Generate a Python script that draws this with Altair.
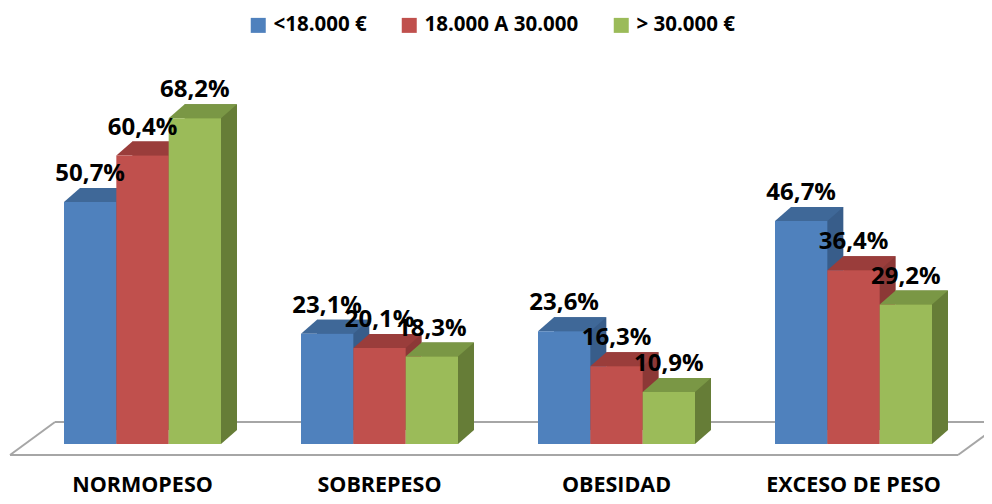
import altair as alt
import pandas as pd

# ---- data ----
categories = ["NORMOPESO", "SOBREPESO", "OBESIDAD", "EXCESO DE PESO"]
series = ["<18.000 €", "18.000 A 30.000", "> 30.000 €"]
vals_low = [50.7, 23.1, 23.6, 46.7]
vals_mid = [60.4, 20.1, 16.3, 36.4]
vals_high = [68.2, 18.3, 10.9, 29.2]

front_colors = ["#4F81BD", "#C0504D", "#9BBB59"]
top_colors = ["#3F6898", "#9A3D3B", "#7A9745"]
side_colors = ["#385D8A", "#8C3836", "#667D37"]

rows = []
for s_i, (s, vals) in enumerate(zip(series, [vals_low, vals_mid, vals_high])):
    for c, v in zip(categories, vals):
        rows.append({
            "cat": c, "serie": s, "val": v, "zero": 0.0,
            "label": f"{v:.1f}".replace(".", ",") + "%",
            "top": top_colors[s_i], "side": side_colors[s_i],
        })
df = pd.DataFrame(rows)

W = 948
H = 382
FONT = "Open Sans"
STEP = W / 4
P_IN = 80 / STEP
P_OUT = 40 / STEP
BAND = STEP * (1 - P_IN)
bar_w = BAND / 3
depth_x, depth_y = 16, 14
s = depth_x                      # custom symbol unit = sqrt(size)/2 px
sym_size = (2 * s) ** 2
h = round(bar_w / 2 / s, 4)      # half bar width in symbol units
d = round(depth_y / s, 4)        # depth height in symbol units

yscale = alt.Scale(domain=[0, 80])
x_enc = alt.X("cat:N", sort=categories, title=None,
              scale=alt.Scale(type="band", paddingInner=P_IN, paddingOuter=P_OUT),
              axis=alt.Axis(labelAngle=0, labelFont=FONT, labelFontSize=21.5,
                            labelFontWeight="bold", labelColor="#000000",
                            ticks=False, domain=False, labelPadding=30))


def xo(shift=0.0):
    if shift == 0:
        sc = alt.Scale(type="band", paddingInner=0, paddingOuter=0)
    else:
        sc = alt.Scale(type="band", paddingInner=0, paddingOuter=0,
                       range=[round(shift, 3), round(BAND + shift, 3)])
    return alt.XOffset("serie:N", sort=series, scale=sc)


y_enc = alt.Y("val:Q", scale=yscale, axis=None)

base = alt.Chart(df)

# floor (decorative), positioned through the y scale
floor_df = pd.DataFrame({"yb": [4.6], "yf": [-2.3]})
fl = alt.Chart(floor_df)
floor_style = dict(color="#A6A6A6", strokeWidth=2)
yb = alt.Y("yb:Q", scale=yscale, axis=None)
yf = alt.Y("yf:Q", scale=yscale, axis=None)
floor1 = fl.mark_rule(**floor_style).encode(x=alt.value(31), x2=alt.value(990), y=yb)
floor2 = fl.mark_rule(**floor_style).encode(x=alt.value(-14), x2=alt.value(934), y=yf)
floor3 = fl.mark_rule(**floor_style).encode(x=alt.value(-14), x2=alt.value(31), y=yf, y2="yb:Q")
floor4 = fl.mark_rule(**floor_style).encode(x=alt.value(934), x2=alt.value(979), y=yf, y2="yb:Q")

# side face of each box (shifted copy of the bar)
back = base.mark_bar(yOffset=-depth_y, y2Offset=-depth_y).encode(
    x=x_enc, xOffset=xo(depth_x), y=y_enc,
    color=alt.Color("side:N", scale=None),
)

# lower corner of the side face
bottom_tri = base.mark_point(
    shape=f"M{h},0L{h},-{d}L{round(h + 1, 4)},-{d}Z", size=sym_size, filled=True,
    opacity=1, strokeWidth=0,
).encode(x=x_enc, xOffset=xo(), y=alt.Y("zero:Q", scale=yscale, axis=None),
         color=alt.Color("side:N", scale=None))

# top face (parallelogram)
top_face = base.mark_point(
    shape=f"M-{h},0L{h},0L{round(h + 1, 4)},-{d}L{round(1 - h, 4)},-{d}Z",
    size=sym_size, filled=True, opacity=1, strokeWidth=0,
).encode(x=x_enc, xOffset=xo(), y=y_enc,
         color=alt.Color("top:N", scale=None))

front = base.mark_bar().encode(
    x=x_enc, xOffset=xo(), y=y_enc,
    color=alt.Color("serie:N", sort=series,
                    scale=alt.Scale(domain=series, range=front_colors),
                    legend=alt.Legend(title=None, orient="none", direction="horizontal",
                                      legendX=224, legendY=-47,
                                      symbolType="square", symbolSize=225,
                                      symbolStrokeWidth=0, symbolOpacity=1,
                                      labelFont=FONT, labelFontSize=20.5,
                                      labelFontWeight="bold", labelColor="#000000",
                                      labelOffset=5, columnPadding=32, padding=0)),
)

labels = base.mark_text(dy=-28, baseline="middle", font=FONT, fontSize=24,
                        fontWeight="bold", color="#000000").encode(
    x=x_enc, xOffset=xo(), y=y_enc, text="label:N",
)

chart = alt.layer(floor1, floor2, floor3, floor4, back, bottom_tri, top_face, front, labels).resolve_scale(
    xOffset="independent"
).properties(
    width=W, height=H,
    autosize=alt.AutoSizeParams(type="none"),
    padding={"left": 16, "top": 54, "right": 12, "bottom": 52},
    background="white",
).configure_view(stroke=None)

chart.save("out.html", embed_options={"renderer": "svg", "actions": False})
